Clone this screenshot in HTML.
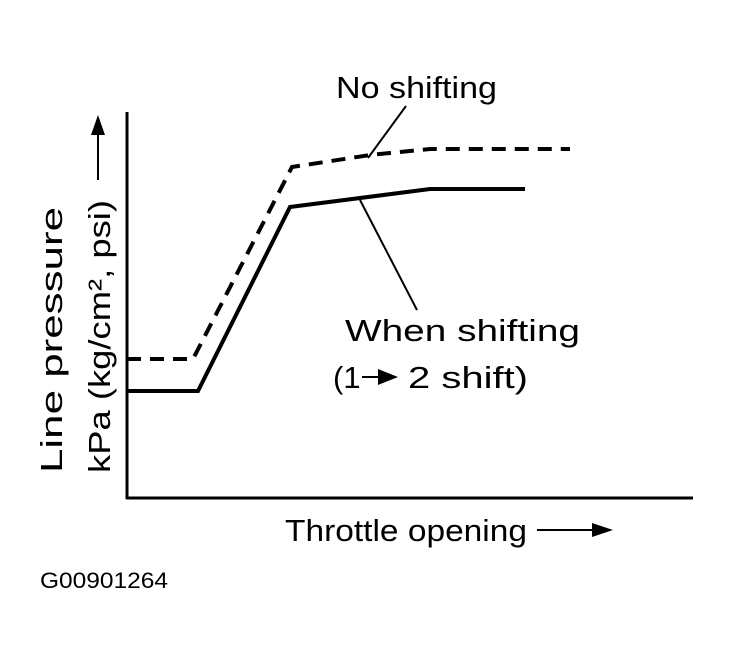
<!DOCTYPE html>
<html><head><style>body{margin:0;background:#fff}</style></head><body>
<svg width="730" height="665" xmlns="http://www.w3.org/2000/svg" font-family="Liberation Sans, sans-serif" fill="#000">
<line x1="127" y1="112" x2="127" y2="499" stroke="#000" stroke-width="3"/>
<line x1="126" y1="498" x2="693" y2="498" stroke="#000" stroke-width="3"/>
<polyline points="127,391 198,391 290,207 430,189 525,189" fill="none" stroke="#000" stroke-width="4"/>
<polyline points="127,359 193,359 292,167 370,155 430,149 570,149" fill="none" stroke="#000" stroke-width="4" stroke-dasharray="14,9"/>
<line x1="406" y1="106" x2="368" y2="158" stroke="#000" stroke-width="2"/>
<line x1="360" y1="200" x2="417" y2="310" stroke="#000" stroke-width="2"/>
<text x="336" y="98" font-size="31" textLength="161" lengthAdjust="spacingAndGlyphs">No shifting</text>
<text x="345" y="341" font-size="31" textLength="235" lengthAdjust="spacingAndGlyphs">When shifting</text>
<text x="333" y="388" font-size="31">(1</text>
<line x1="362" y1="377" x2="380" y2="377" stroke="#000" stroke-width="2"/>
<polygon points="378,369 398,377 378,385"/>
<text x="408" y="388" font-size="31" textLength="120" lengthAdjust="spacingAndGlyphs">2 shift)</text>
<text transform="translate(62,473) rotate(-90)" font-size="31" textLength="266" lengthAdjust="spacingAndGlyphs">Line pressure</text>
<text transform="translate(110,473) rotate(-90)" font-size="31" textLength="273" lengthAdjust="spacingAndGlyphs">kPa (kg/cm², psi)</text>
<line x1="98" y1="180" x2="98" y2="130" stroke="#000" stroke-width="2"/>
<polygon points="91,135 98,115 105,135"/>
<text x="285" y="541" font-size="31" textLength="242" lengthAdjust="spacingAndGlyphs">Throttle opening</text>
<line x1="537" y1="530" x2="596" y2="530" stroke="#000" stroke-width="2"/>
<polygon points="592,523 613,530 592,537"/>
<text x="40" y="588" font-size="22" textLength="128" lengthAdjust="spacingAndGlyphs">G00901264</text>
</svg>
</body></html>
